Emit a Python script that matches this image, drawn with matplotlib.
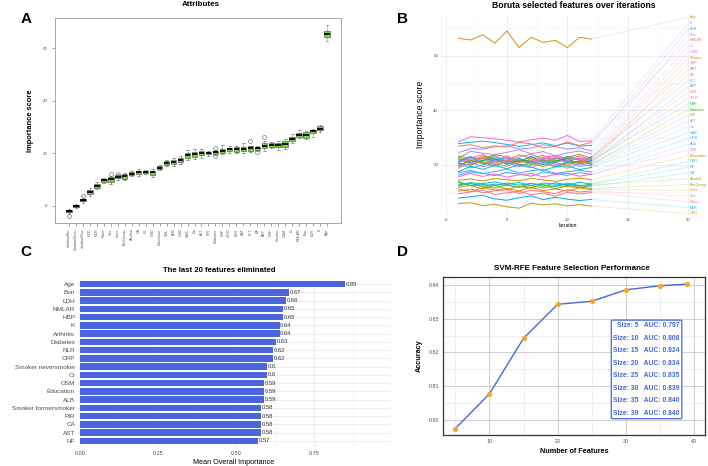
import matplotlib
matplotlib.use("Agg")
import matplotlib.pyplot as plt
import numpy as np

plt.rcParams['font.family'] = ['Liberation Sans', 'DejaVu Sans']

W, H = 708, 466

# ---------------- panel A: Boruta attribute boxplots ----------------
attr_names = ['shadowMin', 'shadowMean', 'shadowMax', 'CKD', 'MLR', 'Race', 'Sex', 'Liver',
              'BmiGroup', 'Alcohol', 'CA', 'HF', 'CHD', 'Education', 'TBIL', 'ALB', 'HGB',
              'WBC', 'Ca', 'ALT', 'PIR', 'Diabetes', 'HBP', 'sPLR', 'NLR', 'AST', 'PLT', 'PA',
              'ART', 'CRP', 'Smoker', 'OSM', 'Cr', 'NMLAR', 'Bun', 'LDH', 'K', 'Age']
attr_med = [-2.0, 0.0, 2.2, 5.3, 7.6, 9.7, 10.2, 11.1, 11.3, 12.3, 12.8, 13.0, 12.8, 14.5, 16.4,
            16.8, 17.4, 19.3, 19.6, 20.1, 20.1, 20.5, 21.0, 21.6, 21.6, 21.7, 21.9, 22.0, 22.9,
            23.2, 23.3, 23.6, 25.4, 27.2, 27.2, 28.4, 29.5, 65.6]
attr_q1 = [-2.4, -0.3, 1.7, 4.5, 6.9, 9.1, 9.3, 10.6, 10.4, 11.8, 12.0, 12.5, 11.9, 14.0, 15.6,
           15.9, 16.6, 18.4, 18.6, 19.3, 19.6, 19.8, 20.2, 20.9, 20.7, 20.8, 21.0, 21.4, 21.9,
           22.6, 22.6, 22.4, 24.6, 26.4, 26.0, 27.6, 28.8, 64.5]
attr_q3 = [-1.6, 0.3, 2.6, 6.2, 8.4, 10.3, 10.9, 11.6, 12.0, 12.8, 13.5, 13.4, 13.5, 15.1, 17.0,
           17.6, 18.3, 20.2, 20.6, 20.9, 20.6, 21.1, 21.8, 22.2, 22.4, 22.6, 22.8, 22.6, 23.9,
           23.8, 24.0, 24.8, 26.4, 27.9, 28.3, 29.1, 30.3, 66.8]
attr_lo = [-2.8, -0.6, 1.3, 3.7, 6.3, 8.6, 8.4, 10.0, 9.9, 11.4, 11.5, 12.2, 11.2, 13.6, 15.2,
           15.3, 16.0, 17.6, 17.8, 18.1, 19.2, 19.3, 19.6, 20.3, 20.0, 20.1, 20.4, 21.0, 21.0,
           21.9, 21.4, 21.6, 24.0, 25.9, 25.4, 26.1, 28.2, 62.9]
attr_hi = [-1.3, 0.6, 3.0, 6.8, 9.2, 10.8, 11.4, 12.0, 12.4, 13.2, 14.0, 13.7, 14.2, 15.5, 17.6,
           18.3, 19.2, 21.4, 21.6, 21.7, 21.0, 21.5, 23.3, 22.8, 22.8, 24.0, 23.0, 22.9, 24.6,
           24.4, 24.7, 25.6, 27.4, 28.8, 28.6, 29.5, 31.0, 69.0]
attr_fliers = {1: [-4.0], 3: [3.6], 7: [12.0], 8: [12.3], 22: [21.9, 19.0],
               27: [24.6], 28: [20.4], 29: [26.1]}
n_shadow = 3

# ---------------- panel B: importance history ----------------
hist_names = ['Age', 'K', 'LDH', 'Bun', 'NMLAR', 'Cr', 'OSM', 'Smoker', 'CRP', 'ART', 'PA', 'PLT',
              'AST', 'NLR', 'sPLR', 'HBP', 'Diabetes', 'PIR', 'ALT', 'Ca', 'WBC', 'HGB', 'ALB',
              'TBIL', 'Education', 'CHD', 'HF', 'CA', 'Alcohol', 'BmiGroup', 'Liver', 'Sex',
              'Race', 'MLR', 'CKD']
iterations = list(range(1, 13))
hist_values = [
    [66.3, 65.7, 67.6, 64.5, 69.0, 62.9, 66.7, 64.8, 65.6, 62.9, 66.7, 66.0],
    [28.5, 30.3, 30.0, 29.6, 29.0, 28.4, 29.2, 29.8, 29.0, 30.8, 28.6, 28.8],
    [27.8, 28.3, 28.7, 28.2, 27.5, 26.8, 27.4, 28.1, 27.0, 28.0, 26.9, 27.2],
    [24.5, 26.0, 25.8, 26.6, 27.0, 25.8, 26.2, 27.4, 26.7, 25.8, 26.3, 25.1],
    [26.9, 27.4, 26.3, 27.0, 26.5, 28.3, 27.7, 26.2, 26.8, 28.4, 27.1, 28.3],
    [22.5, 25.0, 24.3, 23.8, 24.6, 25.6, 24.1, 24.9, 23.3, 24.4, 25.1, 24.0],
    [21.3, 22.6, 23.8, 22.0, 21.5, 22.9, 24.0, 21.9, 23.6, 22.4, 21.8, 23.0],
    [23.2, 22.6, 22.4, 23.8, 22.9, 21.7, 22.6, 23.5, 21.3, 22.8, 23.9, 22.4],
    [20.8, 22.9, 21.7, 23.5, 21.0, 22.2, 20.7, 22.9, 23.3, 21.6, 22.5, 21.1],
    [22.9, 21.4, 23.3, 22.0, 21.6, 23.7, 22.5, 21.0, 22.3, 23.0, 21.7, 22.6],
    [22.0, 20.7, 22.8, 21.2, 23.4, 20.9, 21.5, 22.7, 21.0, 22.2, 23.3, 21.8],
    [21.4, 23.1, 20.6, 21.9, 22.6, 21.2, 23.2, 20.8, 22.6, 21.3, 20.8, 22.9],
    [22.3, 20.9, 21.7, 23.0, 20.5, 22.4, 21.0, 21.9, 20.7, 23.1, 21.8, 20.6],
    [19.6, 21.8, 22.4, 20.6, 21.9, 20.8, 22.2, 21.3, 22.8, 20.5, 21.4, 22.0],
    [21.0, 22.2, 20.3, 21.5, 22.3, 21.6, 20.4, 22.5, 21.9, 21.1, 22.7, 21.2],
    [20.7, 19.9, 21.6, 22.3, 20.2, 21.8, 21.4, 20.1, 21.5, 22.3, 20.3, 21.6],
    [20.0, 21.5, 20.8, 19.6, 21.4, 20.3, 19.9, 21.8, 19.2, 20.9, 21.3, 20.2],
    [19.4, 20.5, 21.2, 20.3, 19.5, 21.6, 20.6, 19.4, 20.8, 19.9, 21.1, 20.5],
    [20.6, 18.9, 20.0, 21.4, 20.8, 19.3, 21.3, 20.4, 19.6, 21.2, 19.5, 20.0],
    [18.8, 20.9, 19.4, 20.1, 21.2, 19.8, 19.0, 20.8, 20.3, 18.8, 20.4, 19.6],
    [17.6, 19.5, 18.4, 19.8, 18.6, 20.1, 19.2, 17.9, 19.4, 19.7, 18.3, 19.1],
    [17.2, 18.0, 16.8, 17.6, 18.5, 17.1, 17.9, 18.3, 16.9, 17.5, 18.1, 17.4],
    [16.3, 17.5, 17.0, 16.1, 17.3, 16.6, 15.9, 17.4, 16.8, 16.2, 17.2, 16.5],
    [15.7, 16.9, 15.8, 16.7, 15.5, 16.4, 16.9, 15.6, 16.5, 17.0, 15.9, 16.6],
    [14.4, 14.9, 14.1, 15.0, 14.6, 14.2, 15.1, 14.5, 14.0, 14.8, 15.2, 14.6],
    [12.7, 13.6, 12.9, 12.4, 13.4, 12.6, 13.3, 12.2, 13.5, 12.8, 12.3, 13.1],
    [13.5, 12.5, 13.2, 13.8, 12.9, 13.6, 12.4, 13.4, 13.0, 12.6, 13.7, 12.9],
    [12.4, 13.3, 12.1, 13.0, 12.6, 11.9, 13.2, 12.7, 12.0, 13.4, 12.5, 12.2],
    [11.8, 12.6, 12.3, 11.5, 12.8, 11.9, 12.4, 11.6, 12.5, 12.1, 11.7, 12.7],
    [13.9, 12.4, 11.3, 12.6, 11.1, 12.2, 11.5, 12.9, 11.2, 12.5, 11.9, 11.4],
    [11.2, 10.3, 11.7, 10.8, 11.4, 10.5, 11.8, 10.6, 11.3, 10.4, 11.6, 11.0],
    [10.4, 11.2, 9.8, 10.6, 10.9, 9.6, 10.8, 10.2, 9.5, 11.0, 10.1, 10.5],
    [9.5, 10.1, 10.8, 9.2, 9.8, 10.4, 9.1, 9.7, 8.6, 10.0, 9.4, 9.9],
    [7.9, 8.4, 8.9, 7.6, 7.1, 8.0, 8.7, 7.3, 8.2, 7.5, 7.0, 7.4],
    [5.9, 6.2, 5.1, 5.6, 4.7, 4.2, 6.0, 5.4, 5.8, 5.0, 5.5, 4.9],
]
hist_colors = ['#D89000', '#F564E3', '#00BADE', '#9590FF', '#F8766D', '#B983FF', '#E76BF3',
               '#A3A500', '#FF62BC', '#C49A00', '#FF6C91', '#00A9FF', '#00B8E7', '#F8766D',
               '#DB72FB', '#00BA38', '#39B600', '#E58700', '#619CFF', '#B983FF', '#00BFC4',
               '#529EFF', '#35A2FF', '#FD61D1', '#D39200', '#00C0AF', '#00B0F6', '#00BCD8',
               '#99A800', '#85AD00', '#E38900', '#F8766D', '#FF6A98', '#00A5FF', '#C09B00']

# ---------------- panel C: last 20 eliminated ----------------
elim_names = ['Age', 'Bun', 'LDH', 'NMLAR', 'HBP', 'K', 'Arthritis', 'Diabetes', 'NLR', 'CRP',
              'Smoker neversmoker', 'Cr', 'OSM', 'Education', 'ALB', 'Smoker formersmoker',
              'PIR', 'CA', 'AST', 'HF']
elim_values = [0.85, 0.67, 0.66, 0.65, 0.65, 0.64, 0.64, 0.63, 0.62, 0.62, 0.60, 0.60, 0.59,
               0.59, 0.59, 0.58, 0.58, 0.58, 0.58, 0.57]

# ---------------- panel D: SVM-RFE ----------------
rfe_sizes = [5, 10, 15, 20, 25, 30, 35, 39]
rfe_accuracy = [0.7974, 0.8077, 0.8242, 0.8343, 0.8352, 0.8386, 0.8398, 0.8403]
rfe_auc = [0.797, 0.808, 0.824, 0.834, 0.835, 0.839, 0.840, 0.840]


def px_axes(fig, x0, y0, x1, y1):
    return fig.add_axes([x0 / W, 1 - y1 / H, (x1 - x0) / W, (y1 - y0) / H])


def ftext(fig, x, y, s, **kw):
    fig.text(x / W, 1 - y / H, s, **kw)


fig = plt.figure(figsize=(W / 100, H / 100), dpi=100)

# ---- A ----
ax = px_axes(fig, 55, 18, 341, 223)
stats = []
for i in range(len(attr_names)):
    stats.append(dict(med=attr_med[i], q1=attr_q1[i], q3=attr_q3[i], whislo=attr_lo[i],
                      whishi=attr_hi[i], fliers=attr_fliers.get(i + 1, [])))
pos = np.arange(1, len(attr_names) + 1)
bp = ax.bxp(stats, positions=pos, widths=0.78, patch_artist=True,
            boxprops=dict(edgecolor='#444444', linewidth=0.4),
            medianprops=dict(color='black', linewidth=1.3),
            whiskerprops=dict(color='#555555', linewidth=0.4, linestyle='--'),
            capprops=dict(color='#555555', linewidth=0.4),
            flierprops=dict(marker='o', markerfacecolor='none', markeredgecolor='#555555',
                            markersize=2.8, markeredgewidth=0.4))
for k, box in enumerate(bp['boxes']):
    box.set_facecolor('#1E1E8C' if k < n_shadow else '#77D936')
ax.set_xlim(-1.0, 40.0)
ax.set_ylim(-6.5, 71.6)
ax.set_xticks(pos)
ax.set_xticklabels(attr_names, rotation=90, fontsize=2.6)
ax.set_yticks([0, 20, 40, 60])
ax.tick_params(axis='y', labelsize=3.2, length=2, width=0.4, colors='#555555')
ax.tick_params(axis='x', length=2, width=0.4, colors='#555555', pad=2)
for sp in ax.spines.values():
    sp.set_color('#999999')
    sp.set_linewidth(0.6)
ax.set_ylabel('Importance score', fontsize=5.4, fontweight='bold', labelpad=6)
ftext(fig, 201, 5, 'Attributes', fontsize=5.8, fontweight='bold', ha='center', va='center')

# ---- B ----
ax = px_axes(fig, 441, 14, 695, 215)
label_y = np.linspace(74.0, 2.3, len(hist_names))
for name, vals, col, ly in zip(hist_names, hist_values, hist_colors, label_y):
    ax.plot(iterations, vals, color=col, linewidth=0.7)
    ax.plot([iterations[-1], 20], [vals[-1], ly], color=col, linewidth=0.5, alpha=0.25)
    ax.text(20.1, ly, name, color=col, fontsize=2.7, va='center', ha='left', clip_on=False)
ax.set_xlim(-0.45, 20.55)
ax.set_ylim(1.7, 75.2)
ax.set_xticks([0, 5, 10, 15, 20])
ax.set_yticks([20, 40, 60])
ax.set_xticks([2.5, 7.5, 12.5, 17.5], minor=True)
ax.set_yticks([10, 30, 50, 70], minor=True)
ax.grid(which='major', color='#E8E8E8', linewidth=0.5)
ax.grid(which='minor', color='#F3F3F3', linewidth=0.4)
ax.tick_params(which='both', length=0, labelsize=3.2, colors='#4D4D4D', pad=2)
for sp in ax.spines.values():
    sp.set_visible(False)
ax.set_ylabel('Importance score', fontsize=6.2, labelpad=6)
ax.set_xlabel('Iteration', fontsize=3.6, labelpad=1)
ftext(fig, 574, 5, 'Boruta selected features over iterations', fontsize=6.2,
      fontweight='bold', ha='center', va='center')

# ---- C ----
ax = px_axes(fig, 78, 278, 390, 447)
ypos = np.arange(len(elim_names))[::-1]
ax.barh(ypos, elim_values, height=0.8, color='#4A65DE')
for y, v in zip(ypos, elim_values):
    ax.text(v + 0.002, y, f'{v:g}', fontsize=4.2, va='center', ha='left', color='#333333')
ax.set_yticks(ypos)
ax.set_yticklabels(elim_names)
ax.set_xlim(-0.008, 0.995)
ax.set_ylim(-0.73, 19.73)
ax.set_xticks([0, 0.25, 0.5, 0.75])
ax.set_xticklabels(['0.00', '0.25', '0.50', '0.75'])
ax.set_xticks([0.125, 0.375, 0.625, 0.875], minor=True)
ax.grid(axis='x', which='major', color='#E6E6E6', linewidth=0.5)
ax.grid(axis='x', which='minor', color='#F2F2F2', linewidth=0.4)
ax.grid(axis='y', color='#E6E6E6', linewidth=0.5)
ax.set_axisbelow(True)
ax.tick_params(which='both', length=0, colors='#4D4D4D')
ax.tick_params(axis='y', labelsize=4.6, pad=2)
ax.tick_params(axis='x', labelsize=4.0, pad=3)
for sp in ax.spines.values():
    sp.set_visible(False)
ax.set_xlabel('Mean Overall Importance', fontsize=5.2, labelpad=2)
ftext(fig, 219, 271, 'The last 20 features eliminated', fontsize=5.6, fontweight='bold',
      ha='center', va='center')

# ---- D ----
ax = px_axes(fig, 443, 277, 705, 435)
ax.plot(rfe_sizes, rfe_accuracy, color='#4169E1', linewidth=1.0, zorder=3)
ax.scatter(rfe_sizes, rfe_accuracy, color='#F5A623', s=14, zorder=4, linewidths=0)
ax.set_xlim(3.2, 41.6)
ax.set_ylim(0.7955, 0.8424)
ax.set_xticks([10, 20, 30, 40])
ax.set_yticks([0.80, 0.81, 0.82, 0.83, 0.84])
ax.set_yticklabels(['0.80', '0.81', '0.82', '0.83', '0.84'])
ax.set_xticks([5, 15, 25, 35], minor=True)
ax.set_yticks([0.805, 0.815, 0.825, 0.835], minor=True)
ax.grid(which='major', color='#C8C8C8', linewidth=0.6)
ax.grid(which='minor', color='#E4E4E4', linewidth=0.4)
ax.set_axisbelow(True)
ax.tick_params(which='both', length=0, labelsize=3.8, colors='#4D4D4D', pad=3)
for sp in ax.spines.values():
    sp.set_color('#333333')
    sp.set_linewidth(0.9)
box_txt = '\n'.join(f'Size: {s}   AUC: {a:.3f}' for s, a in zip(rfe_sizes, rfe_auc))
ax.text(0.777, 0.415, box_txt, transform=ax.transAxes, fontsize=4.9, fontweight='bold',
        color='#4169E1', ha='center', va='center', multialignment='right', linespacing=2.1,
        bbox=dict(boxstyle='round,pad=0.3,rounding_size=0.2', facecolor='white',
                  edgecolor='#4169E1', linewidth=0.9), zorder=5)
ax.set_xlabel('Number of Features', fontsize=5.2, fontweight='bold', labelpad=3)
ax.set_ylabel('Accuracy', fontsize=5.2, fontweight='bold', labelpad=4)
ftext(fig, 572, 268, 'SVM-RFE Feature Selection Performance', fontsize=5.8, fontweight='bold',
      ha='center', va='center')

# panel letters
for letter, x, y in [('A', 26, 19), ('B', 403, 19), ('C', 26, 252), ('D', 403, 252)]:
    ftext(fig, x, y, letter, fontsize=11, fontweight='bold', ha='center', va='center')

fig.savefig('out.png', dpi=100)
